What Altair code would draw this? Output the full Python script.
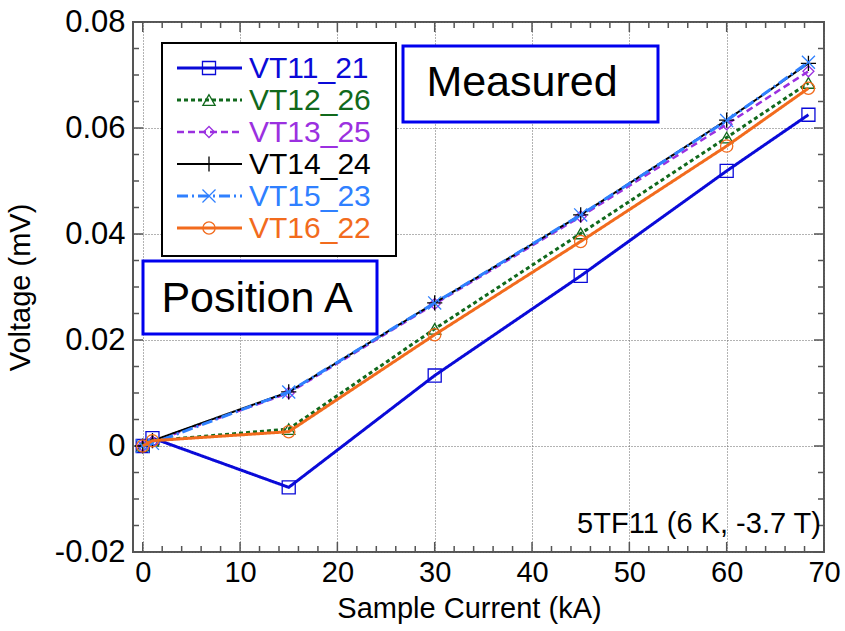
import altair as alt
import pandas as pd

# ---- data ----
current_kA = [0, 1, 15, 30, 45, 60, 68.4]
series_names = ["VT11_21", "VT12_26", "VT13_25", "VT14_24", "VT15_23", "VT16_22"]
vt11_21 = [0, 0.0015, -0.0078, 0.0133, 0.0321, 0.0519, 0.0625]
vt12_26 = [0, 0.0010, 0.0032, 0.0221, 0.0401, 0.0582, 0.0685]
vt13_25 = [0, 0.0008, 0.0100, 0.0268, 0.0433, 0.0607, 0.0707]
vt14_24 = [0, 0.0010, 0.0102, 0.0270, 0.0436, 0.0615, 0.0722]
vt15_23 = [0, 0.0005, 0.0102, 0.0270, 0.0436, 0.0614, 0.0724]
vt16_22 = [0, 0.0010, 0.0027, 0.0210, 0.0386, 0.0566, 0.0675]
series_values = [vt11_21, vt12_26, vt13_25, vt14_24, vt15_23, vt16_22]

x_major = [0, 10, 20, 30, 40, 50, 60, 70]
x_minor = [v for v in range(2, 70, 2) if v % 10 != 0]
y_major = [-0.02, 0, 0.02, 0.04, 0.06, 0.08]
y_minor = [round(-0.02 + 0.005 * i, 3) for i in range(21) if i % 4 != 0]

# ---- styles ----
FONT = "Liberation Sans"
W, H = 691, 530
colors = ["#0a0ad8", "#11691c", "#9b30e0", "#000000", "#2f80ff", "#f26b1d"]
dashes = [[1, 0], [4, 3], [7, 4], [1, 0], [11, 4, 2, 4], [1, 0]]
widths = [3, 3, 2.5, 2, 3, 3]
shapes = ["square", "triangle-up", "diamond",
          "M-1,0L1,0M0,-1L0,1", "M-1,-1L1,1M-1,1L1,-1", "circle"]
sizes = [170, 150, 120, 230, 170, 150]

xs = alt.Scale(domain=[-1, 70], nice=False, zero=False)
ys = alt.Scale(domain=[-0.02, 0.08], nice=False, zero=False)

x_axis = alt.Axis(
    values=x_major, grid=True, gridDash=[1, 2], gridColor="#666", gridWidth=1,
    ticks=False, domain=False, labelFont=FONT, labelFontSize=29, labelColor="black",
    labelPadding=6, title="Sample Current (kA)", titleFont=FONT, titleFontSize=29,
    titleFontWeight="normal", titleColor="black", titleX=336, titleY=56,
    titleBaseline="middle", titleAlign="center", labelFlush=False)
y_axis = alt.Axis(
    values=y_major, grid=True, gridDash=[1, 2], gridColor="#666", gridWidth=1,
    ticks=False, domain=False, labelFont=FONT, labelFontSize=31, labelColor="black",
    labelPadding=8, format="~g", labelExpr="replace(datum.label, '\u2212', '-')",
    title="Voltage (mV)", titleFont=FONT,
    titleFontSize=29, titleFontWeight="normal", titleColor="black",
    titleX=-113, titleY=265, titleAngle=-90, titleAlign="center",
    titleBaseline="middle", labelFlush=False)


def X(f):
    return alt.X(f, scale=xs, axis=x_axis)


def Y(f):
    return alt.Y(f, scale=ys, axis=y_axis)


layers = []

# inward ticks on all four sides
def xticks(vals, ln):
    d = pd.DataFrame({"v": vals})
    bot = alt.Chart(d).mark_rule(color="#555", strokeWidth=1.5).encode(
        x=X("v:Q"), y=alt.value(H), y2=alt.value(H - ln))
    top = alt.Chart(d).mark_rule(color="#555", strokeWidth=1.5).encode(
        x=X("v:Q"), y=alt.value(0), y2=alt.value(ln))
    return [bot, top]


def yticks(vals, ln):
    d = pd.DataFrame({"v": vals})
    lft = alt.Chart(d).mark_rule(color="#555", strokeWidth=1.5).encode(
        y=Y("v:Q"), x=alt.value(0), x2=alt.value(ln))
    rgt = alt.Chart(d).mark_rule(color="#555", strokeWidth=1.5).encode(
        y=Y("v:Q"), x=alt.value(W), x2=alt.value(W - ln))
    return [lft, rgt]


layers += xticks(x_major, 10) + xticks(x_minor, 6) + yticks(y_major, 10) + yticks(y_minor, 6)

# data series
for i, name in enumerate(series_names):
    df = pd.DataFrame({"I": current_kA, "V": series_values[i], "s": name})
    line = alt.Chart(df).mark_line(
        color=colors[i], strokeWidth=widths[i], strokeDash=dashes[i]
    ).encode(x=X("I:Q"), y=Y("V:Q"))
    pts = alt.Chart(df).mark_point(
        shape=shapes[i], filled=False, color=colors[i], size=sizes[i], strokeWidth=1.3, opacity=1
    ).encode(x=X("I:Q"), y=Y("V:Q"))
    layers += [line, pts]

one = pd.DataFrame({"a": [0]})

# legend box
layers.append(alt.Chart(one).mark_rect(fill="white", stroke="black", strokeWidth=2).encode(
    x=alt.value(29), x2=alt.value(263), y=alt.value(21), y2=alt.value(234)))
row_y = [46, 78, 110, 142, 174, 206]
for i, name in enumerate(series_names):
    ld = pd.DataFrame({"label": [name]})
    layers.append(alt.Chart(ld).mark_rule(color=colors[i], strokeWidth=widths[i],
                                          strokeDash=dashes[i]).encode(
        x=alt.value(44), x2=alt.value(109), y=alt.value(row_y[i])))
    layers.append(alt.Chart(ld).mark_point(shape=shapes[i], filled=False, color=colors[i],
                                           size=sizes[i], strokeWidth=1.3, opacity=1).encode(
        x=alt.value(76), y=alt.value(row_y[i])))
    layers.append(alt.Chart(ld).mark_text(align="left", baseline="middle", font=FONT,
                                          fontSize=30, color=colors[i]).encode(
        x=alt.value(116), y=alt.value(row_y[i] + 1), text="label:N"))

# annotation boxes
layers.append(alt.Chart(one).mark_rect(fill="white", stroke="#0000ee", strokeWidth=3).encode(
    x=alt.value(270), x2=alt.value(525), y=alt.value(24), y2=alt.value(100)))
layers.append(alt.Chart(pd.DataFrame({"t": ["Measured"]})).mark_text(
    font=FONT, fontSize=43, color="black", align="center", baseline="middle").encode(
    x=alt.value(389), y=alt.value(61), text="t:N"))
layers.append(alt.Chart(one).mark_rect(fill="white", stroke="#0000ee", strokeWidth=3).encode(
    x=alt.value(10), x2=alt.value(244), y=alt.value(239), y2=alt.value(312)))
layers.append(alt.Chart(pd.DataFrame({"t": ["Position A"]})).mark_text(
    font=FONT, fontSize=43, color="black", align="center", baseline="middle").encode(
    x=alt.value(124), y=alt.value(277), text="t:N"))
layers.append(alt.Chart(pd.DataFrame({"t": ["5TF11 (6 K, -3.7 T)"]})).mark_text(
    font=FONT, fontSize=29, color="black", align="right", baseline="middle").encode(
    x=alt.value(688), y=alt.value(502), text="t:N"))

chart = alt.layer(*layers).properties(
    width=W, height=H,
    autosize=alt.AutoSizeParams(type="none"),
    padding={"left": 133, "top": 22, "right": 21, "bottom": 79},
    background="white",
).configure_view(stroke="#555", strokeWidth=2)

chart.save("out.html", embed_options={"renderer": "svg", "actions": False})
